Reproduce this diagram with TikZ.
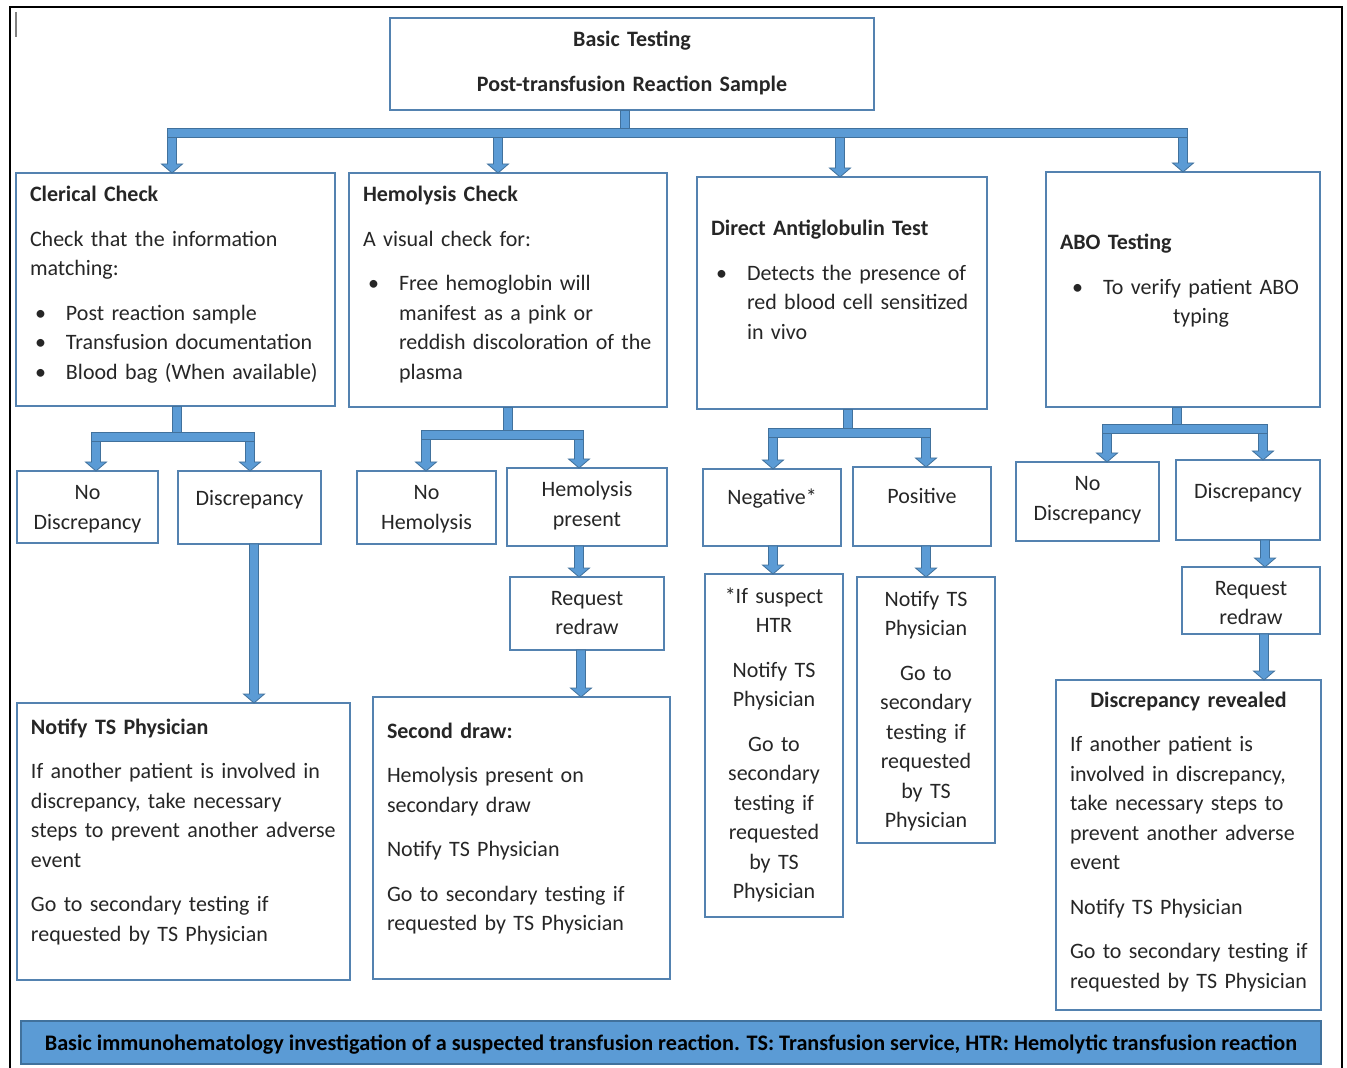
\documentclass[tikz,border=0pt]{standalone}
\usepackage{fontspec}
\setmainfont{Carlito}
\usepackage{tikz}
\usetikzlibrary{calc,positioning}
\definecolor{boxline}{RGB}{84,130,176}
\definecolor{pipefill}{RGB}{91,155,213}
\definecolor{pipeline}{RGB}{65,113,156}
\newcommand{\bul}{\makebox[18pt][l]{\hspace{2.5pt}\textbullet}}
\newcommand{\indt}{\hspace*{18pt}}

\begin{document}
\begin{tikzpicture}[x=0.5pt,y=-0.5pt,
  tb/.style 2 args={text height=#1,text depth=#2},
  vpipe/.style={fill=pipefill,draw=pipeline,line width=0.4pt,
    to path={let \p1=(\tikztostart),\p2=(\tikztotarget) in
      (\x1-2.25pt,\y1) rectangle (\x2+2.25pt,\y2)}},
  hpipe/.style={fill=pipefill,draw=pipeline,line width=0.4pt,
    to path={let \p1=(\tikztostart),\p2=(\tikztotarget) in
      (\x1-2.25pt,\y1-2.25pt) rectangle (\x2+2.25pt,\y2+2.25pt)}},
  barrow/.style={fill=pipefill,draw=pipeline,line width=0.4pt,
    to path={let \p1=(\tikztostart),\p2=(\tikztotarget) in
      (\x1-2.25pt,\y1) -- (\x1+2.25pt,\y1) -- (\x1+2.25pt,\y2+4.5pt)
      -- (\x1+5.25pt,\y2+4.5pt) -- (\x1,\y2) -- (\x1-5.25pt,\y2+4.5pt)
      -- (\x1-2.25pt,\y2+4.5pt) -- cycle}}]
  \tikzstyle{box}=[draw=boxline,line width=0.7pt,anchor=north west,inner xsep=7pt,inner ysep=0pt,outer sep=0pt,align=left,text=black!85,font=\fontsize{11}{14.75}\selectfont]
  \tikzstyle{cbox}=[box,align=center]
  \useasboundingbox (0,0) rectangle (1347,1068);
  \draw[line width=1pt] (10,1068) -- (10,7) -- (1342,7) -- (1342,1068);
  \draw[gray,line width=0.6pt] (16,12) -- (16,37);

  \node[cbox,font=\fontsize{11}{14.75}\selectfont\bfseries,text width=228pt,tb={14.5pt}{31.5pt}] (top) at (390,18) {Basic Testing\\[7.5pt]Post-transfusion Reaction Sample};

  \node[box,text width=145.5pt,tb={14.5pt}{102pt}] (cler) at (16,173) {\textbf{Clerical Check}\\[7.5pt]
    Check that the information\\
    matching:\\[7.5pt]
    \bul Post reaction sample\\
    \bul Transfusion documentation\\
    \bul Blood bag (When available)};
  \node[box,text width=145pt,tb={14.5pt}{102.5pt}] (hemc) at (349,173) {\textbf{Hemolysis Check}\\[7.5pt]
    A visual check for:\\[7.5pt]
    \bul Free hemoglobin will\\
    \indt manifest as a pink or\\
    \indt\mbox{reddish discoloration of the}\\
    \indt plasma};
  \node[box,text width=131pt,tb={29.5pt}{86.5pt}] (dat) at (697,177) {\textbf{Direct Antiglobulin Test}\\[7.5pt]
    \bul Detects the presence of\\
    \indt red blood cell sensitized\\
    \indt in vivo};
  \node[cbox,text width=123pt,tb={39pt}{78.5pt}] (abo) at (1046,172) {\makebox[\linewidth][l]{\textbf{ABO Testing}}\\[7.5pt]
    \bul To verify patient ABO\\
    \indt typing};

  \node[cbox,text width=56.5pt,tb={14.5pt}{21.5pt}] (nod1) at (17,471) {No\\Discrepancy};
  \node[cbox,text width=57.5pt,tb={17.5pt}{19pt}] (dis1) at (178,471) {Discrepancy};
  \node[box,text width=152.5pt,tb={15.5pt}{123pt}] (not1) at (17,703) {\textbf{Notify TS Physician}\\[7.5pt]
    If another patient is involved in\\
    discrepancy, take necessary\\
    \mbox{steps to prevent another adverse}\\
    event\\[7.5pt]
    Go to secondary testing if\\
    requested by TS Physician};

  \node[cbox,text width=55.5pt,tb={14.5pt}{22pt}] (nohem) at (357,471) {No\\Hemolysis};
  \node[cbox,text width=66pt,tb={14.5pt}{24.5pt}] (hemp) at (507,468) {Hemolysis\\present};
  \node[cbox,text width=63pt,tb={14pt}{22.5pt}] (red2) at (510,577) {Request\\redraw};
  \node[box,text width=134.5pt,tb={20.5pt}{120.5pt}] (sec) at (373,697) {\textbf{Second draw:}\\[7.5pt]
    Hemolysis present on\\
    secondary draw\\[7.5pt]
    Notify TS Physician\\[7.5pt]
    Go to secondary testing if\\
    requested by TS Physician};

  \node[cbox,text width=55pt,tb={18pt}{20.5pt}] (neg) at (703,469) {Negative*};
  \node[cbox,text width=55pt,tb={18.5pt}{21pt}] (pos) at (853,467) {Positive};
  \node[cbox,text width=55pt,tb={14.5pt}{157pt}] (ifs) at (705,574) {*If suspect\\HTR\\[7.5pt]
    Notify TS\\Physician\\[7.5pt]
    Go to\\secondary\\testing if\\requested\\by TS\\Physician};
  \node[cbox,text width=55pt,tb={14.5pt}{118.5pt}] (not3) at (857,577) {Notify TS\\Physician\\[7.5pt]
    Go to\\secondary\\testing if\\requested\\by TS\\Physician};

  \node[cbox,text width=57.5pt,tb={14.5pt}{25pt}] (nod4) at (1016,462) {No\\Discrepancy};
  \node[cbox,text width=58pt,tb={19.5pt}{20.5pt}] (dis4) at (1176,460) {Discrepancy};
  \node[cbox,text width=55pt,tb={14pt}{19.5pt}] (red4) at (1182,567) {Request\\redraw};
  \node[box,text width=118.5pt,tb={13.5pt}{151.5pt}] (rev) at (1056,680) {\makebox[\linewidth][c]{\textbf{Discrepancy revealed}}\\[7.5pt]
    If another patient is\\
    involved in discrepancy,\\
    take necessary steps to\\
    \mbox{prevent another adverse}\\
    event\\[7.5pt]
    Notify TS Physician\\[7.5pt]
    \mbox{Go to secondary testing if}\\
    \mbox{requested by TS Physician}};

  \node[cbox,fill=pipefill,draw=pipeline,text=black,font=\fontsize{11.1}{14.75}\selectfont\bfseries,minimum width=650pt,tb={14.5pt}{7pt}] (cap) at (21,1021) {Basic immunohematology investigation of a suspected transfusion reaction. TS: Transfusion service, HTR: Hemolytic transfusion reaction};

  \coordinate (j0) at (625,133);
  \coordinate (a1) at (172,133);
  \coordinate (a2) at (498,133);
  \coordinate (a3) at (840,133);
  \coordinate (a4) at (1183,133);
  \draw[vpipe] (top.south -| j0) to (j0);
  \draw[barrow] (a1) to (cler.north);
  \draw[barrow] (a2) to (hemc.north);
  \draw[barrow] (a3) to (dat.north);
  \draw[barrow] (a4) to (abo.north);
  \draw[hpipe] (a1) to (a4);

  \coordinate (j1) at (177,437);
  \coordinate (a11) at (96,437);
  \coordinate (a12) at (250,437);
  \draw[vpipe] (cler.south -| j1) to (j1);
  \draw[barrow] (a11) to (nod1.north);
  \draw[barrow] (a12) to (dis1.north);
  \draw[hpipe] (a11) to (a12);
  \draw[barrow] ([xshift=2.25pt]dis1.south) to (not1.north);

  \coordinate (j2) at (508,435);
  \coordinate (a21) at (426,435);
  \coordinate (a22) at (579,435);
  \draw[vpipe] (hemc.south -| j2) to (j2);
  \draw[barrow] (a21) to (nohem.north);
  \draw[barrow] (a22) to (hemp.north);
  \draw[hpipe] (a21) to (a22);
  \draw[barrow] ([xshift=-4pt]hemp.south) to (red2.north);
  \draw[barrow] ([xshift=-3pt]red2.south) to (sec.north);

  \coordinate (j3) at (848,433);
  \coordinate (a31) at (773,433);
  \coordinate (a32) at (926,433);
  \draw[vpipe] (dat.south -| j3) to (j3);
  \draw[barrow] (a31) to (neg.north);
  \draw[barrow] (a32) to (pos.north);
  \draw[hpipe] (a31) to (a32);
  \draw[barrow] ([xshift=0.5pt]neg.south) to (ifs.north);
  \draw[barrow] ([xshift=2pt]pos.south) to (not3.north);

  \coordinate (j4) at (1177,429);
  \coordinate (a41) at (1107,429);
  \coordinate (a42) at (1263,429);
  \draw[vpipe] (abo.south -| j4) to (j4);
  \draw[barrow] (a41) to (nod4.north);
  \draw[barrow] (a42) to (dis4.north);
  \draw[hpipe] (a41) to (a42);
  \draw[barrow] ([xshift=8.5pt]dis4.south) to (red4.north);
  \draw[barrow] ([xshift=6.5pt]red4.south) to (rev.north);
\end{tikzpicture}
\end{document}
